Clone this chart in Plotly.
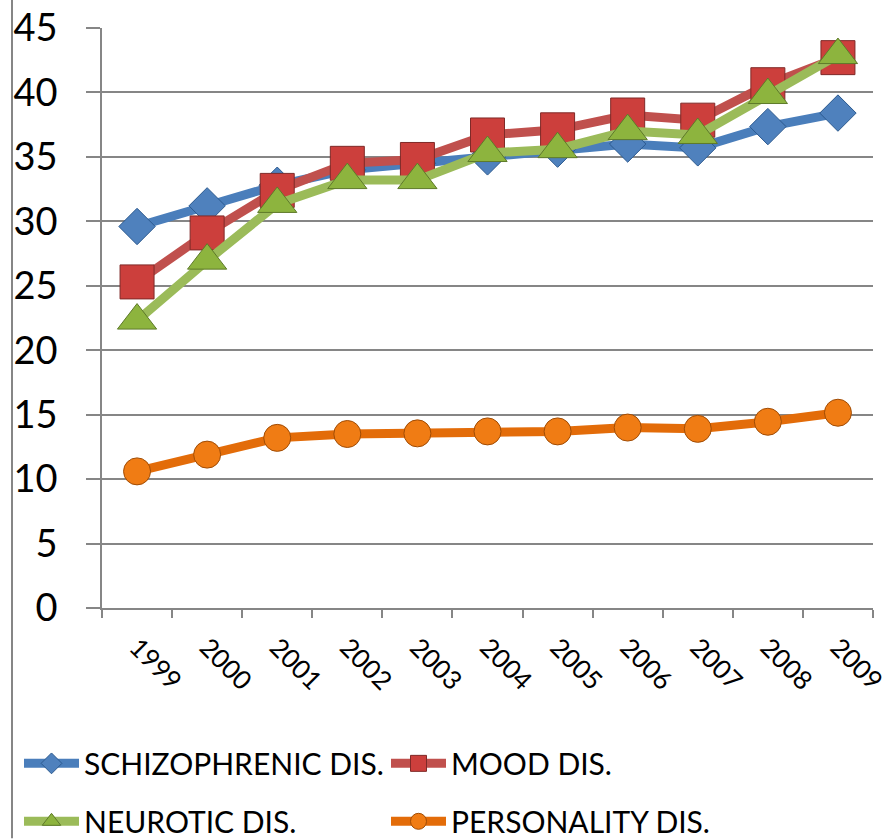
import plotly.graph_objects as go

years = ["1999", "2000", "2001", "2002", "2003", "2004", "2005", "2006", "2007", "2008", "2009"]
schizophrenic = [29.6, 31.2, 32.8, 34.0, 34.5, 35.0, 35.6, 36.0, 35.7, 37.35, 38.4]
mood = [25.3, 29.1, 32.4, 34.5, 34.8, 36.7, 37.1, 38.25, 37.85, 40.6, 42.7]
neurotic = [22.3, 26.95, 31.35, 33.2, 33.2, 35.3, 35.6, 37.0, 36.7, 39.8, 42.9]
personality = [10.6, 11.9, 13.2, 13.5, 13.55, 13.7, 13.7, 14.0, 13.9, 14.45, 15.15]

series = [
    ("SCHIZOPHRENIC DIS.", schizophrenic, "#4A7EBB", "#4F81BD", "#2C5A8F", "diamond", 28, "legend"),
    ("MOOD DIS.", mood, "#C0504D", "#CC3F3C", "#7F2A28", "square", 34, "legend2"),
    ("NEUROTIC DIS.", neurotic, "#9BBB59", "#8DB43E", "#5E7A2A", "triangle-up", 34, "legend3"),
    ("PERSONALITY DIS.", personality, "#E36C09", "#F07C14", "#A04C05", "circle", 27, "legend4"),
]

fig = go.Figure()
for name, vals, lc, mc, bc, sym, sz, lg in series:
    fig.add_trace(go.Scatter(
        x=years, y=vals, name=name, mode="lines+markers",
        line=dict(color=lc, width=9),
        marker=dict(symbol=sym, size=sz, color=mc, line=dict(color=bc, width=1)),
        legend=lg,
    ))

FONT = "Lato"
W, H = 889, 839
ml, mr, mt = 102, 16, 28
plot_bottom = 608.5
mb = H - plot_bottom
pw = W - ml - mr
ph = plot_bottom - mt

def px_x(x):
    return (x - ml) / pw

def px_y(y):
    return (plot_bottom - y) / ph

legend_common = dict(
    font=dict(family=FONT, size=30, color="#000000"),
    bgcolor="rgba(0,0,0,0)", itemwidth=55, xanchor="left", yanchor="middle",
    orientation="h",
)

fig.update_layout(
    width=W, height=H,
    margin=dict(l=ml, r=mr, t=mt, b=mb, autoexpand=False),
    paper_bgcolor="white", plot_bgcolor="white",
    font=dict(family=FONT, color="#000000"),
    showlegend=True,
    legend=dict(x=px_x(19), y=px_y(764), **legend_common),
    legend2=dict(x=px_x(386), y=px_y(764), **legend_common),
    legend3=dict(x=px_x(19), y=px_y(822), **legend_common),
    legend4=dict(x=px_x(386), y=px_y(822), **legend_common),
    xaxis=dict(
        type="category", range=[-0.5, 10.5], tickson="boundaries",
        ticks="outside", ticklen=8, tickcolor="#868686", tickwidth=1.5,
        showline=True, linecolor="#868686", linewidth=1.5,
        showgrid=False, tickangle=45, automargin=False,
        tickfont=dict(family=FONT, size=26, color="#000000"),
        ticklabelstandoff=12,
    ),
    yaxis=dict(
        range=[0, 45], dtick=5, tick0=0,
        ticks="outside", ticklen=14, tickcolor="#868686", tickwidth=1.5,
        showline=True, linecolor="#868686", linewidth=1.5,
        showgrid=True, gridcolor="#868686", gridwidth=1.5,
        zeroline=False, automargin=False,
        tickfont=dict(family=FONT, size=38, color="#000000"),
        ticklabelstandoff=21,
    ),
    shapes=[dict(type="line", xref="paper", yref="paper",
                 x0=px_x(12), x1=px_x(12), y0=px_y(H), y1=px_y(0),
                 line=dict(color="#868686", width=2))],
)

fig.write_html("out.html")
